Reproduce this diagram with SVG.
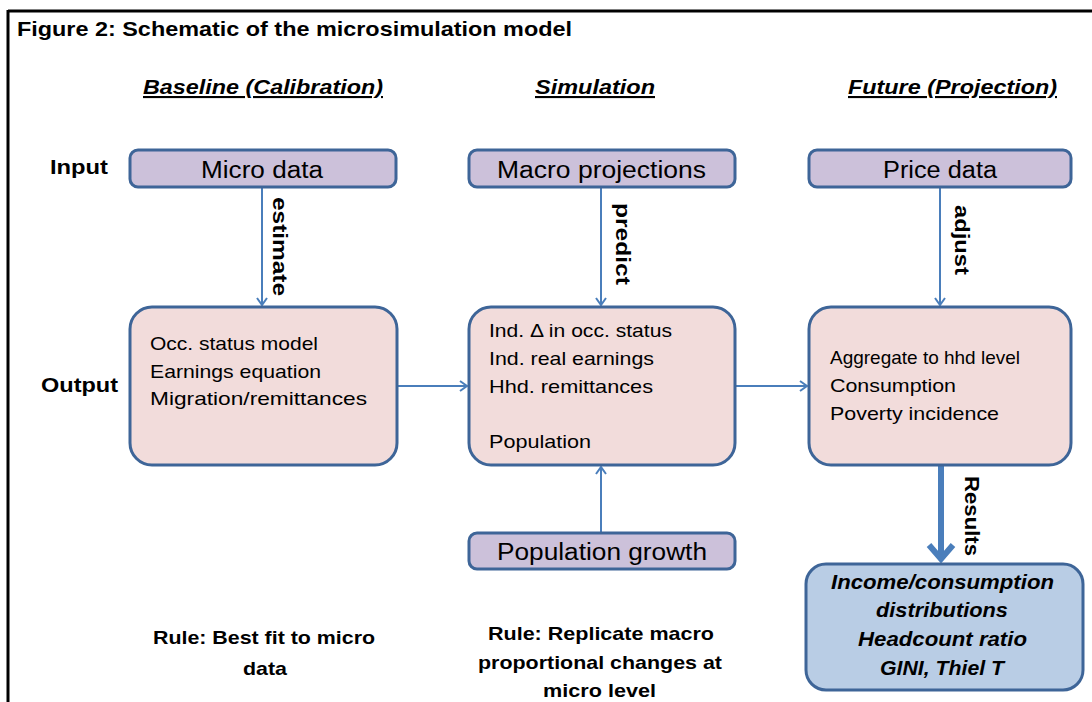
<svg xmlns="http://www.w3.org/2000/svg" width="1092" height="702" viewBox="0 0 1092 702">
  <defs>
    <style>
      text { font-family: "Liberation Sans", Arial, sans-serif; fill: #000; }
      .title { font-size: 21px; font-weight: bold; }
      .head { font-size: 21px; font-weight: bold; font-style: italic; text-decoration: underline; }
      .row { font-size: 20px; font-weight: bold; }
      .in { font-size: 23px; }
      .body { font-size: 19px; }
      .res { font-size: 20px; font-style: italic; font-weight: 600; }
      .lab { font-size: 20px; font-weight: bold; }
      .rule { font-size: 19px; font-weight: bold; }
      .inbox { fill: #CCC1DA; stroke: #3E6598; stroke-width: 3; }
      .outbox { fill: #F2DCDB; stroke: #3E6598; stroke-width: 3; }
      .resbox { fill: #B9CDE5; stroke: #3E6598; stroke-width: 3; }
      .conn { stroke: #4A7EBB; stroke-width: 2; fill: none; }
      .thick { stroke: #4A7EBB; stroke-width: 6; fill: none; }
    </style>
    <marker id="arrow" markerWidth="12" markerHeight="12" refX="10" refY="6" orient="auto" markerUnits="userSpaceOnUse">
      <path d="M3,1 L10,6 L3,11" fill="none" stroke="#4A7EBB" stroke-width="2"/>
    </marker>
    <marker id="bigarrow" markerWidth="30" markerHeight="30" refX="24" refY="15" orient="auto" markerUnits="userSpaceOnUse">
      <path d="M10,3 L24,15 L10,27" fill="none" stroke="#4A7EBB" stroke-width="6" stroke-linejoin="miter"/>
    </marker>
  </defs>

  <!-- page frame -->
  <g id="frame">
    <line x1="8" y1="11" x2="1092" y2="11" stroke="#000" stroke-width="3"/>
    <line x1="8" y1="10" x2="8" y2="702" stroke="#000" stroke-width="3"/>
  </g>

  <text class="title" x="17" y="36" textLength="555" lengthAdjust="spacingAndGlyphs">Figure 2: Schematic of the microsimulation model</text>

  <!-- column headings -->
  <g id="headings">
    <text class="head" x="143" y="94" textLength="240" lengthAdjust="spacingAndGlyphs">Baseline (Calibration)</text>
    <text class="head" x="535" y="94" textLength="120" lengthAdjust="spacingAndGlyphs">Simulation</text>
    <text class="head" x="848" y="94" textLength="209" lengthAdjust="spacingAndGlyphs">Future (Projection)</text>
  </g>

  <!-- row labels -->
  <g id="rows">
    <text class="row" x="50" y="174" textLength="58" lengthAdjust="spacingAndGlyphs">Input</text>
    <text class="row" x="41" y="392" textLength="77" lengthAdjust="spacingAndGlyphs">Output</text>
  </g>

  <!-- connectors -->
  <g id="connectors">
    <line class="conn" x1="262" y1="187" x2="262" y2="305" marker-end="url(#arrow)"/>
    <line class="conn" x1="601" y1="187" x2="601" y2="305" marker-end="url(#arrow)"/>
    <line class="conn" x1="940" y1="187" x2="940" y2="305" marker-end="url(#arrow)"/>
    <line class="conn" x1="397" y1="386" x2="467" y2="386" marker-end="url(#arrow)"/>
    <line class="conn" x1="735" y1="386" x2="807" y2="386" marker-end="url(#arrow)"/>
    <line class="conn" x1="601" y1="533" x2="601" y2="467" marker-end="url(#arrow)"/>
    <line class="thick" x1="941" y1="465" x2="941" y2="559" marker-end="url(#bigarrow)"/>
    <text class="lab" transform="translate(273,197) rotate(90)" textLength="99" lengthAdjust="spacingAndGlyphs">estimate</text>
    <text class="lab" transform="translate(616,203) rotate(90)" textLength="82" lengthAdjust="spacingAndGlyphs">predict</text>
    <text class="lab" transform="translate(955,205) rotate(90)" textLength="70" lengthAdjust="spacingAndGlyphs">adjust</text>
    <text class="lab" transform="translate(965,476) rotate(90)" textLength="80" lengthAdjust="spacingAndGlyphs">Results</text>
  </g>

  <!-- inputs -->
  <g id="micro-data">
    <rect class="inbox" x="130" y="150" width="266" height="37" rx="8"/>
    <text class="in" x="201" y="178" textLength="122" lengthAdjust="spacingAndGlyphs">Micro data</text>
  </g>
  <g id="macro-projections">
    <rect class="inbox" x="469" y="150" width="266" height="37" rx="8"/>
    <text class="in" x="497" y="178" textLength="209" lengthAdjust="spacingAndGlyphs">Macro projections</text>
  </g>
  <g id="price-data">
    <rect class="inbox" x="809" y="150" width="262" height="37" rx="8"/>
    <text class="in" x="883" y="178" textLength="114" lengthAdjust="spacingAndGlyphs">Price data</text>
  </g>
  <g id="population-growth">
    <rect class="inbox" x="469" y="533" width="266" height="36" rx="8"/>
    <text class="in" x="497" y="560" textLength="210" lengthAdjust="spacingAndGlyphs">Population growth</text>
  </g>

  <!-- model stages -->
  <g id="baseline">
    <rect class="outbox" x="130" y="307" width="267" height="158" rx="22"/>
    <text class="body" x="150" y="350" textLength="168" lengthAdjust="spacingAndGlyphs">Occ. status model</text>
    <text class="body" x="150" y="378" textLength="171" lengthAdjust="spacingAndGlyphs">Earnings equation</text>
    <text class="body" x="150" y="405" textLength="217" lengthAdjust="spacingAndGlyphs">Migration/remittances</text>
  </g>
  <g id="simulation">
    <rect class="outbox" x="469" y="307" width="266" height="158" rx="22"/>
    <text class="body" x="489" y="337" textLength="183" lengthAdjust="spacingAndGlyphs">Ind. Δ in occ. status</text>
    <text class="body" x="489" y="365" textLength="165" lengthAdjust="spacingAndGlyphs">Ind. real earnings</text>
    <text class="body" x="489" y="393" textLength="164" lengthAdjust="spacingAndGlyphs">Hhd. remittances</text>
    <text class="body" x="489" y="448" textLength="102" lengthAdjust="spacingAndGlyphs">Population</text>
  </g>
  <g id="projection">
    <rect class="outbox" x="809" y="307" width="262" height="158" rx="22"/>
    <text class="body" x="830" y="364" textLength="190" lengthAdjust="spacingAndGlyphs">Aggregate to hhd level</text>
    <text class="body" x="830" y="392" textLength="126" lengthAdjust="spacingAndGlyphs">Consumption</text>
    <text class="body" x="830" y="420" textLength="169" lengthAdjust="spacingAndGlyphs">Poverty incidence</text>
  </g>

  <!-- results -->
  <g id="results">
    <rect class="resbox" x="806" y="564" width="277" height="126" rx="20"/>
    <text class="res" x="831" y="589" textLength="223" lengthAdjust="spacingAndGlyphs">Income/consumption</text>
    <text class="res" x="876" y="617" textLength="132" lengthAdjust="spacingAndGlyphs">distributions</text>
    <text class="res" x="858" y="646" textLength="169" lengthAdjust="spacingAndGlyphs">Headcount ratio</text>
    <text class="res" x="880" y="675" textLength="124" lengthAdjust="spacingAndGlyphs">GINI, Thiel T</text>
  </g>

  <!-- calibration rules -->
  <g id="rules">
    <text class="rule" x="153" y="644" textLength="222" lengthAdjust="spacingAndGlyphs">Rule: Best fit to micro</text>
    <text class="rule" x="243" y="675" textLength="44" lengthAdjust="spacingAndGlyphs">data</text>
    <text class="rule" x="488" y="640" textLength="226" lengthAdjust="spacingAndGlyphs">Rule: Replicate macro</text>
    <text class="rule" x="478" y="669" textLength="244" lengthAdjust="spacingAndGlyphs">proportional changes at</text>
    <text class="rule" x="543" y="697" textLength="113" lengthAdjust="spacingAndGlyphs">micro level</text>
  </g>
</svg>
